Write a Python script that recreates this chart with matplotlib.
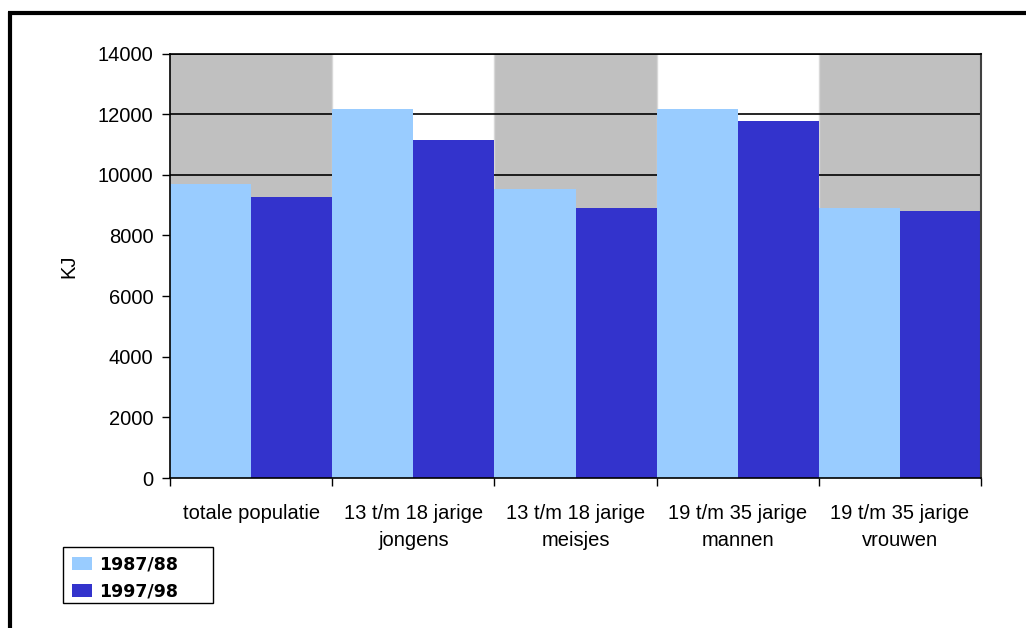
import numpy as np
import matplotlib
matplotlib.use("Agg")
import matplotlib.pyplot as plt
from matplotlib.lines import Line2D
from matplotlib.patches import Rectangle

# energy intake per group, two survey periods
groups = ["totale populatie", "13 t/m 18 jarige\njongens", "13 t/m 18 jarige\nmeisjes",
          "19 t/m 35 jarige\nmannen", "19 t/m 35 jarige\nvrouwen"]
series_names = ["1987/88", "1997/98"]
kj_8788 = [9700, 12170, 9530, 12170, 8920]
kj_9798 = [9280, 11150, 8920, 11770, 8790]
yticks = [0, 2000, 4000, 6000, 8000, 10000, 12000, 14000]

plt.rcParams['font.family'] = ['Liberation Sans', 'DejaVu Sans']

W, H = 1026, 628
fig = plt.figure(figsize=(W / 100, H / 100), dpi=100)
ax = fig.add_axes([170 / W, 1 - 478 / H, 811 / W, 424.5 / H])

x = np.arange(len(groups))
bw = 0.5

# alternating grey bands behind every other group
for i in x:
    if i % 2 == 0:
        ax.axvspan(i - 0.5, i + 0.5, color='#C0C0C0', zorder=0, lw=0)
for b in np.arange(0.5, len(groups) - 0.5, 1.0):
    ax.axvline(b, color='#D8D8D8', lw=1, zorder=0.5)

for yv in yticks[1:]:
    ax.axhline(yv, color='black', lw=1.2, zorder=1)

ax.bar(x - bw / 2, kj_8788, width=bw, color='#99CCFF', label=series_names[0], zorder=2)
ax.bar(x + bw / 2, kj_9798, width=bw, color='#3333CC', label=series_names[1], zorder=2)

ax.set_xlim(-0.5, len(groups) - 0.5)
ax.set_ylim(0, 14000)
ax.set_yticks(yticks)
ax.set_yticklabels([str(v) for v in yticks], fontsize=14.5)
ax.tick_params(axis='y', length=6, width=1, pad=6, color='black')

ax.set_xticks(np.arange(-0.5, len(groups), 1.0))
ax.set_xticklabels([])
ax.set_xticks(x, minor=True)
ax.set_xticklabels(groups, minor=True, fontsize=14.5, linespacing=1.5)
ax.tick_params(axis='x', which='major', length=6, width=1, color='black')
ax.tick_params(axis='x', which='minor', length=0, pad=19)

ax.set_ylabel('KJ', fontsize=14.5)
ax.yaxis.set_label_coords(-0.113, 0.5)

for side in ['left', 'bottom', 'top']:
    ax.spines[side].set_color('black')
    ax.spines[side].set_linewidth(1.2)
ax.spines['right'].set_color('#404040')
ax.spines['right'].set_linewidth(1.5)
for sp in ax.spines.values():
    sp.set_zorder(3)

# legend entries, with the box drawn separately so it can be wider than its text
leg = fig.legend(loc='upper left', bbox_to_anchor=(63 / W, 1 - 547 / H),
                 frameon=False, prop={'family': 'DejaVu Sans', 'weight': 'bold', 'size': 12.5},
                 handlelength=1.15, handleheight=0.75, handletextpad=0.4,
                 borderpad=0.5, labelspacing=0.5, borderaxespad=0)
fig.add_artist(Rectangle((63 / W, 1 - 603 / H), 150 / W, 56 / H, transform=fig.transFigure,
                         fill=False, edgecolor='black', lw=1.0))

# outer frame around the chart
fig.add_artist(Line2D([8 / W, 1.0], [1 - 13 / H, 1 - 13 / H], transform=fig.transFigure,
                      color='black', lw=3, solid_capstyle='butt'))
fig.add_artist(Line2D([10 / W, 10 / W], [1 - 12 / H, 0.0], transform=fig.transFigure,
                      color='black', lw=3, solid_capstyle='butt'))

fig.savefig('out.png', dpi=100)
